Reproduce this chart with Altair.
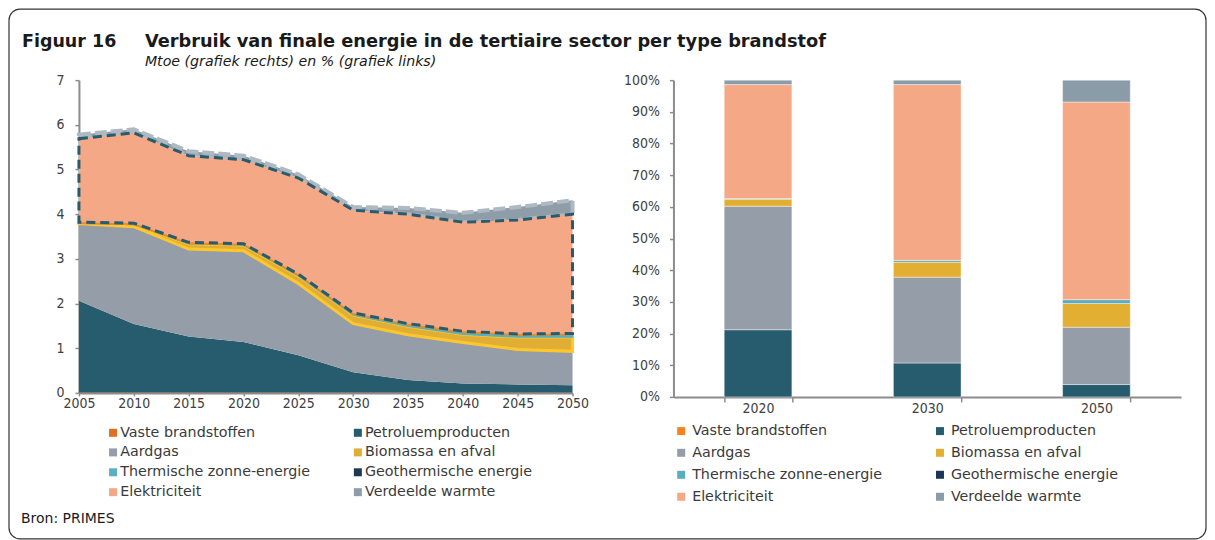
import altair as alt
import pandas as pd

# ---------------- data ----------------
years = [2005, 2010, 2015, 2020, 2025, 2030, 2035, 2040, 2045, 2050]
series = ["Vaste brandstoffen", "Petroluemproducten", "Aardgas", "Biomassa en afval",
          "Thermische zonne-energie", "Geothermische energie", "Elektriciteit", "Verdeelde warmte"]

# left chart, Mtoe
vaste = [0.01, 0.01, 0.01, 0.01, 0.01, 0.01, 0.01, 0.01, 0.01, 0.01]
petroleum = [2.05, 1.53, 1.25, 1.13, 0.83, 0.45, 0.28, 0.20, 0.18, 0.16]
aardgas = [1.73, 2.18, 1.96, 2.04, 1.61, 1.09, 1.01, 0.92, 0.78, 0.76]
biomassa = [0.01, 0.05, 0.12, 0.13, 0.17, 0.19, 0.19, 0.18, 0.28, 0.32]
zonne = [0.00, 0.00, 0.01, 0.01, 0.02, 0.03, 0.04, 0.05, 0.05, 0.06]
geothermisch = [0.02, 0.03, 0.02, 0.02, 0.02, 0.02, 0.02, 0.02, 0.02, 0.02]
elektriciteit = [1.87, 2.02, 1.94, 1.88, 2.15, 2.30, 2.45, 2.44, 2.55, 2.67]
warmte = [0.09, 0.08, 0.10, 0.09, 0.08, 0.07, 0.14, 0.21, 0.29, 0.31]

# right chart, %
bar_years = ["2020", "2030", "2050"]
pct_vaste = [0.0, 0.0, 0.0]
pct_petroleum = [21.2, 10.7, 3.9]
pct_aardgas = [39.0, 27.1, 18.1]
pct_biomassa = [2.2, 4.7, 7.5]
pct_zonne = [0.2, 0.6, 1.2]
pct_geothermisch = [0.0, 0.0, 0.0]
pct_elektriciteit = [36.0, 55.5, 62.4]
pct_warmte = [1.4, 1.4, 6.9]

y_ticks_left = [0, 1, 2, 3, 4, 5, 6, 7]
y_ticks_right = [0, 10, 20, 30, 40, 50, 60, 70, 80, 90, 100]

title_fig = "Figuur 16"
title_main = "Verbruik van finale energie in de tertiaire sector per type brandstof"
subtitle = "Mtoe (grafiek rechts) en % (grafiek links)"
source = "Bron: PRIMES"

# ---------------- styling ----------------
FONT = "DejaVu Sans"
AXFONT = "DejaVu Sans Condensed"
left_colors = ["#E0701F", "#275B6E", "#949DA8", "#E1AE35", "#5AAFC1", "#1D3853", "#F5A886", "#8F9DA8"]
right_colors = ["#F5821F", "#275B6E", "#949DA8", "#E2AF33", "#5AACBE", "#1B3656", "#F5A886", "#8A9CA7"]

area_style = {
    "Vaste brandstoffen": dict(strokeWidth=0),
    "Petroluemproducten": dict(strokeWidth=0),
    "Aardgas": dict(strokeWidth=0),
    "Biomassa en afval": dict(stroke="#FFC72C", strokeWidth=3),
    "Thermische zonne-energie": dict(stroke="#5AAFC1", strokeWidth=1.5),
    "Geothermische energie": dict(stroke="#F08A24", strokeWidth=1.8),
    "Elektriciteit": dict(stroke="#275B6E", strokeWidth=3, strokeDash=[9, 5]),
    "Verdeelde warmte": dict(stroke="#AEB9C3", strokeWidth=4, strokeDash=[12, 4]),
}
draw_order = ["Vaste brandstoffen", "Petroluemproducten", "Aardgas", "Biomassa en afval",
              "Thermische zonne-energie", "Geothermische energie", "Verdeelde warmte", "Elektriciteit"]

left_lists = [vaste, petroleum, aardgas, biomassa, zonne, geothermisch, elektriciteit, warmte]
right_lists = [pct_vaste, pct_petroleum, pct_aardgas, pct_biomassa, pct_zonne,
               pct_geothermisch, pct_elektriciteit, pct_warmte]

left_rows = []
for i, (s, vals) in enumerate(zip(series, left_lists)):
    for y, v in zip(years, vals):
        left_rows.append({"year": y, "series": s, "value": v, "order": i})
left_df = pd.DataFrame(left_rows)

right_rows = []
for i, (s, vals) in enumerate(zip(series, right_lists)):
    for y, v in zip(bar_years, vals):
        right_rows.append({"year": y, "series": s, "value": v, "order": i})
right_df = pd.DataFrame(right_rows)

LW, LH = 494, 313
RW, RH = 508, 317

left_legend = alt.Legend(orient="none", legendX=27, legendY=345.5, columns=2, columnPadding=40,
                         direction="horizontal",
                         rowPadding=4.9, symbolType="square", symbolSize=64, symbolStrokeWidth=0,
                         labelFont=FONT, labelFontSize=14.3, labelColor="#3a3a3a", labelOffset=0,
                         title=None, padding=0, labelLimit=400)
right_legend = alt.Legend(orient="none", legendX=0.6, legendY=343.8, columns=2, columnPadding=50,
                          direction="horizontal",
                          rowPadding=7, symbolType="square", symbolSize=64, symbolStrokeWidth=0,
                          labelFont=FONT, labelFontSize=14.3, labelColor="#3a3a3a", labelOffset=3.8,
                          title=None, padding=0, labelLimit=400)

left_color = alt.Color("series:N", scale=alt.Scale(domain=series, range=left_colors), legend=left_legend)
x_left = alt.X("year:Q", scale=alt.Scale(domain=[2005, 2050], nice=False, zero=False),
               axis=alt.Axis(values=years, format="d", title=None, tickSize=3, labelPadding=1,
                             labelFlush=False, labelOverlap=False))
y_left = alt.Y("y1:Q", scale=alt.Scale(domain=[0, 7], nice=False),
               axis=alt.Axis(values=y_ticks_left, title=None, tickSize=4, labelPadding=11))

base = alt.Chart(left_df).transform_stack(
    stack="value", groupby=["year"], as_=["y0", "y1"],
    sort=[alt.SortField(field="order", order="ascending")]
)

area_layers = []
for s in draw_order:
    area_layers.append(
        base.transform_filter(alt.datum.series == s)
        .mark_area(interpolate="linear", **area_style[s])
        .encode(x=x_left, y=y_left, y2=alt.Y2("y0:Q"), color=left_color)
    )

frame = alt.Chart(pd.DataFrame({"f": [0]})).mark_rect(
    fill="#ffffff", fillOpacity=0, stroke="#333333", strokeWidth=1.2, cornerRadius=11
).encode(x=alt.value(-70), x2=alt.value(1128), y=alt.value(-71), y2=alt.value(459))


def text_layer(txt, x, y, size, weight="normal", style="normal"):
    return alt.Chart(pd.DataFrame({"t": [txt]})).mark_text(
        align="left", baseline="alphabetic", font=FONT, fontSize=size,
        fontWeight=weight, fontStyle=style, color="#1a1a1a"
    ).encode(x=alt.value(x), y=alt.value(y), text="t:N")


texts = [
    text_layer(title_fig, -57, -33, 17.5, weight="bold"),
    text_layer(title_main, 66, -33, 17.8, weight="bold"),
    text_layer(subtitle, 66, -14, 14.2, style="italic"),
    text_layer(source, -58, 443, 14),
]

left = alt.layer(frame, *area_layers, *texts).properties(width=LW, height=LH)

right = alt.Chart(right_df).transform_filter(alt.datum.value > 0).mark_bar(
    stroke="#ffffff", strokeWidth=0.6, strokeOpacity=0.7
).encode(
    x=alt.X("year:N", sort=bar_years,
            scale=alt.Scale(paddingInner=0.6, paddingOuter=0.3),
            axis=alt.Axis(title=None, labelAngle=0, tickBand="extent", tickSize=5, labelPadding=0)),
    y=alt.Y("value:Q", stack="zero", scale=alt.Scale(domain=[0, 100], nice=False),
            axis=alt.Axis(values=y_ticks_right, title=None, labelExpr="datum.value + '%'",
                          tickSize=4, labelPadding=10)),
    color=alt.Color("series:N", scale=alt.Scale(domain=series, range=right_colors), legend=right_legend),
    order=alt.Order("order:Q", sort="ascending"),
).properties(width=RW, height=RH)

chart = alt.hconcat(left, right, spacing=101, bounds="flush").resolve_scale(
    color="independent"
).properties(padding=0, background="white").configure_view(stroke=None).configure_axis(
    labelFont=AXFONT, labelFontSize=14, labelColor="#404040", domainColor="#8c8c8c",
    domainWidth=2, tickColor="#8c8c8c", tickWidth=1.5, grid=False
)

chart.save("out.html", embed_options={"renderer": "svg", "actions": False})
